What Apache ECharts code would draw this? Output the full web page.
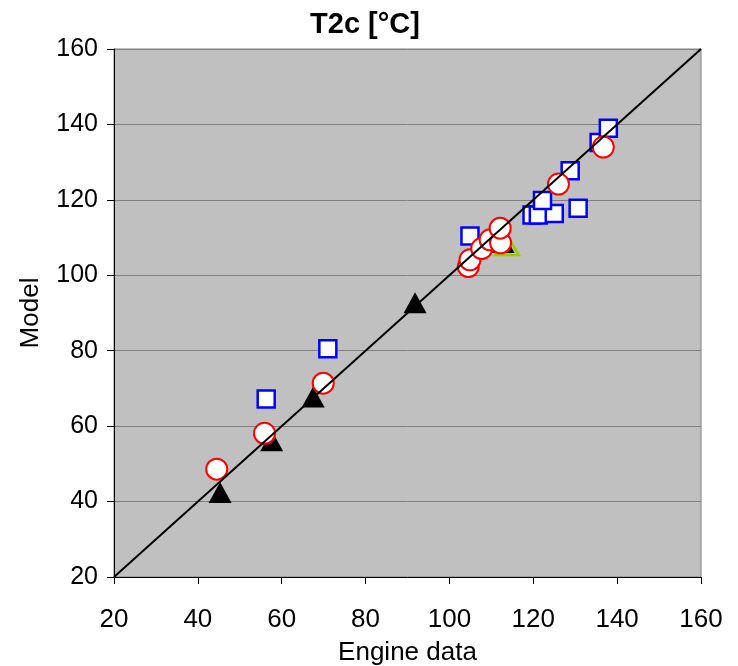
<!DOCTYPE html>
<html>
<head>
<meta charset="utf-8">
<script src="https://cdn.jsdelivr.net/npm/echarts@6/dist/echarts.min.js"></script>
<style>html,body{margin:0;padding:0;background:#fff}#c{width:738px;height:666px}</style>
</head>
<body>
<div id="c"></div>
<script>
var xTicks = [20, 40, 60, 80, 100, 120, 140, 160];
var yTicks = [20, 40, 60, 80, 100, 120, 140, 160];
var squaresBlue = [[56.3,67.2],[71.0,80.5],[104.9,110.4],[119.7,116.0],[121.2,116.0],[125.0,116.4],[130.7,117.8],[122.2,119.8],[128.8,127.7],[135.7,135.2],[137.9,139.0]];
var trianglesBlack = [[45.3,42.4],[57.6,56.1],[67.5,67.7],[91.8,92.7],[112.8,108.7]];
var trianglesGreen = [[113.7,108.0]];
var circlesRed = [[44.5,48.6],[55.9,58.1],[69.9,71.4],[104.5,102.3],[104.9,104.1],[107.7,107.1],[109.7,109.4],[112.2,108.6],[112.1,112.5],[126.0,124.2],[136.7,134.0]];
var diagonal = [[20,20],[160,160]];

var chart = echarts.init(document.getElementById('c'), null, {renderer:'canvas'});
var font = 'Liberation Sans, Arial, sans-serif';
chart.setOption({
  animation: false,
  title: {
    text: 'T2c [°C]', left: 360, top: 5, textAlign: 'center',
    textStyle: {fontFamily: font, fontSize: 29, fontWeight: 'bold', color: '#000'}
  },
  grid: {left: 114, right: 37, top: 49, bottom: 89, outerBoundsMode: 'none', containLabel: false,
    show: true, backgroundColor: '#c0c0c0', borderColor: '#808080', borderWidth: 1},
  xAxis: {
    type: 'value', min: xTicks[0], max: xTicks[xTicks.length-1], interval: 20,
    name: 'Engine data', nameLocation: 'middle', nameGap: 63,
    nameTextStyle: {fontFamily: font, fontSize: 26, color: '#000'},
    axisLine: {lineStyle: {color: '#000', width: 1}},
    axisTick: {show: true, length: 7, lineStyle: {color: '#000'}},
    axisLabel: {fontFamily: font, fontSize: 26, color: '#000', margin: 30},
    splitLine: {show: false}
  },
  yAxis: {
    type: 'value', min: yTicks[0], max: yTicks[yTicks.length-1], interval: 20,
    name: 'Model', nameLocation: 'middle', nameGap: 70, nameRotate: 90,
    nameTextStyle: {fontFamily: font, fontSize: 26, color: '#000'},
    axisLine: {show: true, lineStyle: {color: '#000', width: 1}},
    axisTick: {show: true, length: 7, lineStyle: {color: '#000'}},
    axisLabel: {fontFamily: font, fontSize: 25, color: '#000', margin: 16},
    splitLine: {show: true, lineStyle: {color: '#808080', width: 1}}
  },
  series: [
    {type: 'scatter', data: squaresBlue, symbol: 'rect', symbolSize: 17, z: 2,
     itemStyle: {color: '#fff', borderColor: '#0000ff', borderWidth: 2.5, opacity: 1}},
    {type: 'scatter', data: trianglesBlack, symbol: 'triangle', symbolSize: [23, 21], z: 3,
     itemStyle: {color: '#000', borderColor: '#000', borderWidth: 0, opacity: 1}},
    {type: 'scatter', data: trianglesGreen, symbol: 'triangle', symbolSize: [24, 20], z: 4,
     itemStyle: {color: 'rgba(0,0,0,0)', borderColor: '#99cc00', borderWidth: 2.5, opacity: 1}},
    {type: 'scatter', data: circlesRed, symbol: 'circle', symbolSize: 21, z: 5,
     itemStyle: {color: '#fff', borderColor: '#ff0000', borderWidth: 2, opacity: 1}},
    {type: 'line', data: diagonal, symbol: 'none', z: 6, silent: true,
     lineStyle: {color: '#000', width: 2}}
  ]
});
</script>
</body>
</html>
